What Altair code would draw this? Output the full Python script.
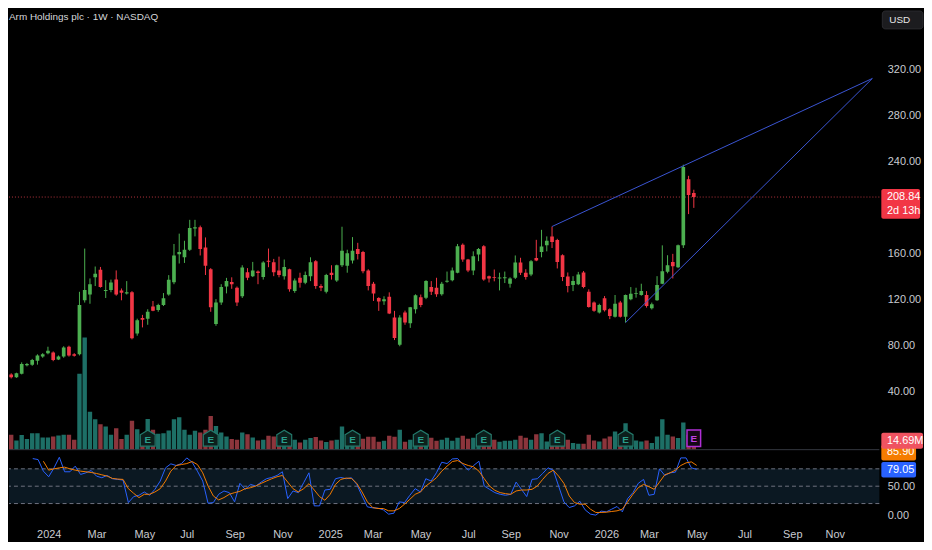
import altair as alt
import pandas as pd

# ---------------- data ----------------
TITLE = "Arm Holdings plc · 1W · NASDAQ"
FIRST_WEEK = "2023-10-30"

opens = [49.5, 54.5, 52, 55, 62.5, 63, 66.5, 70, 73, 73.5,
         67.5, 70, 78.5, 72, 72, 119, 124, 139, 145.5, 127,
         128, 137, 127.5, 125, 126, 90, 103.5, 103, 113.5, 110.5,
         115, 124, 134.6, 159, 156.5, 163, 181.5, 182.5, 165, 146,
         98.3, 117, 131, 135, 130, 122.5, 143.5, 140, 144, 139.2,
         153.5, 152, 145, 140, 146, 127, 138.6, 134.3, 140, 153,
         131.4, 126.4, 143, 136.3, 149.5, 149, 153.6, 163.6, 161, 145,
         133.4, 121, 118.2, 122, 104, 80.4, 108.3, 99, 111.2, 121.7,
         121.3, 130.5, 130, 124.2, 135.2, 136.5, 143, 167.4, 154.5, 145,
         158.8, 166, 140, 139.3, 138, 138.2, 133.4, 138.6, 151.8, 143,
         141.4, 155.8, 161, 166.8, 174.6, 171.5, 158.2, 139.8, 132.2, 133,
         143.2, 126.4, 117, 108.3, 120.7, 111.2, 104.6, 117, 104.6, 120,
         124.5, 123.6, 123.6, 112, 119, 133.4, 143.8, 152.4, 147.8, 166.8,
         224.4, 212.4]
highs = [54, 55.5, 56, 65, 64.5, 68, 72, 73, 78.6, 74.5,
         71, 79, 79.5, 73, 126.4, 164, 138, 148.4, 148, 136.5,
         137, 145, 129.3, 135.7, 127, 103, 106.3, 111.2, 118.4, 116,
         125.3, 140.9, 168, 177, 170.8, 189, 189, 184, 173.7, 147,
         120, 133, 138.5, 139, 131, 149.5, 147, 152.4, 145, 153,
         164, 155, 157, 154.5, 146.5, 138, 143, 144, 156.4, 154,
         133, 142, 149.5, 150, 183, 163, 174, 169, 162, 146,
         135, 121.7, 122.5, 125.9, 109.8, 106, 110, 113.2, 124.2, 124,
         136.5, 135.7, 138.6, 135, 144, 147.5, 168, 168.5, 155, 161.6,
         164.5, 167, 140.5, 145.8, 143, 144, 139, 158, 156, 146,
         154, 171.6, 180.3, 174.6, 183.2, 172.5, 159, 143.2, 140, 143.7,
         144.5, 128.5, 118, 116, 122.7, 112, 123.6, 118.5, 124, 130.5,
         129.9, 133.4, 127, 117, 140, 166.8, 158.2, 159.4, 167.5, 237,
         227.3, 215.2]
lows = [48.5, 51, 51.5, 54.5, 61.5, 62, 63, 69, 72, 66,
        67, 69, 70, 70, 71, 117, 116, 131.4, 130, 121,
        126, 123, 119, 124, 85, 88.2, 95.4, 97.7, 109.5, 109,
        114, 123, 133, 151, 151.5, 162, 174.6, 158, 141, 109,
        96.8, 115, 125, 129, 114, 121, 136.5, 139.2, 133, 137,
        147.8, 140, 139, 137, 126.5, 125.5, 130, 133, 135.7, 129,
        127, 125, 137, 135, 148, 143, 151, 154.5, 142.5, 127.6,
        118.4, 109.8, 115, 107, 84.4, 79, 97.7, 95, 107.5, 113,
        120, 123.6, 122, 123, 134.3, 135.5, 142.5, 152.5, 143.5, 140.9,
        153, 136, 134.5, 135.5, 127.6, 134, 130, 137.5, 141, 137,
        140, 153, 156.4, 161.6, 164.5, 146.7, 135.7, 125.9, 127, 132.2,
        129.5, 112.6, 109, 107.5, 109.2, 102.6, 104, 104, 99.6, 119,
        121.3, 123, 112.6, 111, 118.5, 133, 142.5, 138, 147, 164.5,
        194, 199.4]
closes = [53.5, 52, 55.5, 63.5, 63.5, 67, 71, 72, 75, 67,
          70, 78, 71, 70.8, 115, 128, 133, 142, 130.5, 128,
          134.5, 124, 125.5, 126, 86, 101.7, 102, 109, 110, 115,
          120.7, 136.8, 158, 161, 163, 181.8, 182.5, 163.6, 149, 113,
          117, 130.5, 135.7, 133, 117, 147.5, 138.6, 145, 142.8, 151.8,
          152.5, 143.5, 141, 148, 128.5, 136.3, 134.3, 141, 152, 131.4,
          130, 141, 141, 149.5, 162, 160, 162, 159.3, 144.3, 131.4,
          125, 118, 120, 107.5, 86.2, 104, 99.7, 113, 123.3, 115,
          135.7, 126.4, 124.2, 133.4, 136, 145, 166, 154.5, 145, 157.3,
          163.6, 137, 138, 138.6, 138.8, 139, 138, 151.8, 143, 139.2,
          153, 153.6, 165.7, 170.8, 169.7, 152.4, 139.2, 131.4, 135.7, 141.4,
          130.5, 113.2, 110, 115, 110.3, 105.4, 116.1, 104.6, 123.6, 124.7,
          125.2, 127, 114, 115.5, 132.2, 144.3, 149.5, 148.7, 166.8, 235,
          210.6, 208.84]
volumes_m = [27.5, 27.5, 17, 27, 19.6, 30.5, 30.5, 22.5, 22.5, 24.3,
             26.2, 27.5, 27.5, 18.3, 140.4, 207.3, 70.1, 56.2, 47, 42.6,
             27.5, 39.7, 19.6, 27.5, 53.6, 37.9, 22, 56.7, 36.6, 29.3,
             30.5, 35.3, 56.2, 59.8, 36.6, 27.5, 34.8, 31.7, 36.6, 62.2,
             43.9, 31.7, 24.3, 19.6, 18.3, 31.7, 28.7, 22.5, 17, 18.3,
             25.6, 24.3, 18.3, 30.5, 19.6, 18.3, 13.4, 18.3, 21.4, 23.2,
             17, 14.1, 17, 18.3, 42.6, 27.5, 25.6, 16.5, 20.1, 23.8,
             23.8, 14.6, 16.5, 25.6, 23.8, 36.6, 14.6, 18.3, 22, 25.6,
             18.3, 22, 16.5, 18.3, 22, 16.5, 22, 25.6, 20.1, 22,
             18.3, 22, 29.3, 18.3, 14.6, 16.5, 16.5, 18.3, 25.6, 22,
             18.3, 28.7, 30.5, 15.2, 18.3, 22, 22, 18.3, 12.3, 11,
             11, 27.5, 17, 15.2, 20.7, 24.3, 33.5, 22, 48.9, 13.4,
             17, 15.2, 17, 12.3, 24.3, 56.2, 27.5, 24.3, 21.4, 50,
             27.5, 14.69]
# Stochastic %K (starts at week 6) and %D (starts at week 8)
K_START = 6
stoch_k = [97.7, 96, 76, 66.3, 81.7, 100, 74.9, 74.9, 84.6, 70.3,
           73.1, 77.1, 67.4, 64.6, 68.6, 62.9, 61.7, 60.6, 21.7, 32,
           34.3, 40, 34.3, 44.6, 58.9, 81.7, 88.6, 85.7, 89.1, 98.9,
           91.4, 76, 58.9, 20.6, 21.7, 36, 41.7, 38.9, 22.9, 54.9,
           44.6, 53.1, 50.3, 57.1, 62.9, 65.1, 68.6, 74.9, 28.6, 41.7,
           38.9, 56, 73.1, 16, 16, 43.4, 44.6, 62.9, 65.1, 62.9,
           64.6, 53.1, 33.1, 14.3, 12.6, 12, 9.1, 1.7, 3.4, 22.9,
           21.7, 34.3, 45.7, 40, 62.9, 58.9, 73.1, 91.4, 89.1, 97.1,
           97.7, 87.4, 77.7, 85.7, 93.1, 50.3, 44.6, 38.9, 36, 34.3,
           36, 57.1, 44.6, 32, 61.7, 62.9, 72, 81.7, 77.7, 50.3,
           22.9, 13.1, 16, 24, 9.1, 1.7, 0, 6.9, 5.7, 10.3,
           14.9, 5.7, 28.6, 38.9, 54.9, 61.7, 34.3, 36, 80, 68.6,
           73.1, 74.3, 98.9, 98.9, 81.7, 79.05]
D_START = 8
stoch_d = [93.1, 77.7, 80, 81.7, 82.9, 80, 77.7, 76, 74.9, 73.7,
           72, 69.7, 67.4, 63.4, 62.3, 61.7, 45.7, 37.7, 30.3, 36,
           36, 40, 45.7, 58.9, 76, 85.7, 87.4, 89.1, 92.6, 87.4,
           73.1, 50.3, 33.1, 26.3, 30.3, 36, 38.9, 41.1, 45.7, 47.4,
           50.3, 54.9, 58.9, 62.9, 66.3, 68.6, 57.1, 45.7, 40, 45.7,
           54.3, 43.4, 32, 25.7, 36, 53.1, 61.7, 64, 63.4, 54.9,
           40, 22.9, 13.1, 11.4, 11.4, 7.4, 7.4, 11.4, 18.9, 27.4,
           36, 40, 50.3, 57.1, 64.6, 76, 84.6, 92.6, 94.3, 89.1,
           85.7, 83.4, 76, 62.9, 50.3, 42.9, 38.9, 37.1, 36, 41.7,
           43.4, 43.4, 44.6, 50.3, 61.7, 72, 77.7, 67.4, 54.9, 33.1,
           21.7, 18.9, 18.9, 10.3, 4.6, 4.6, 5.1, 6.3, 7.4, 10.3,
           22.9, 36, 47.4, 53.1, 49.1, 44.6, 57.1, 69.7, 73.1, 77.7,
           85.7, 90.3, 92, 85.9]
stoch_levels = [80, 50, 20]
earnings_weeks = [27, 39, 53, 66, 79, 91, 105, 118]
upcoming_earnings_week = 131
# trend lines: (name, date, price)
trend_names = ["upper", "upper", "lower", "lower"]
trend_dates = ["2025-10-27", "2026-12-28", "2026-02-02", "2026-12-28"]
trend_prices = [183.2, 312, 99.6, 312]
price_ticks = [40, 80, 120, 160, 240, 280, 320]
stoch_ticks = [0, 50]
# first weekly bar of every second month (label positions)
month_ticks = [(2024, 1, 1), (2024, 3, 4), (2024, 5, 6), (2024, 7, 1), (2024, 9, 2),
               (2024, 11, 4), (2025, 1, 6), (2025, 3, 3), (2025, 5, 5), (2025, 7, 7),
               (2025, 9, 1), (2025, 11, 3), (2026, 1, 5), (2026, 3, 2), (2026, 5, 4),
               (2026, 7, 6), (2026, 9, 7), (2026, 11, 2)]
countdown = "2d 13h"

# ---------------- styles ----------------
FONT = "Liberation Sans, Arial, sans-serif"
BG = "#000000"
UP = "#4caf50"
DOWN = "#f23645"
VOL_UP = "#1d6f66"
VOL_DOWN = "#8c353c"
TXT = "#c9cbd1"
TREND = "#3a55d4"
K_COL = "#2962ff"
D_COL = "#f57c00"
W, H_TOP, H_BOT = 877, 442, 74
FS = 11

n = len(opens)
dates = pd.date_range(FIRST_WEEK, periods=n, freq="7D").strftime("%Y-%m-%d")
df = pd.DataFrame({"date": dates, "open": opens, "high": highs, "low": lows,
                   "close": closes, "volume": volumes_m})
sk = pd.DataFrame({"date": dates[K_START:], "k": stoch_k})
sd = pd.DataFrame({"date": dates[D_START:], "d": stoch_d})
earn = pd.DataFrame({"date": [dates[i] for i in earnings_weeks]})
upc = pd.DataFrame({"date": [dates[upcoming_earnings_week]]})
trend = pd.DataFrame({"line": trend_names, "date": trend_dates, "price": trend_prices})

X_SCALE = alt.Scale(type="utc", domain=[
    alt.DateTime(year=2023, month=11, date=9, hours=16, minutes=20, utc=True),
    alt.DateTime(year=2026, month=12, date=30, hours=17, utc=True)])
PRICE_SCALE = alt.Scale(domain=[-10.97, 370.7], nice=False, zero=False)
VOL_SCALE = alt.Scale(domain=[0, 811], nice=False, zero=False)
STOCH_SCALE = alt.Scale(domain=[-15.5, 111.4], nice=False, zero=False)

PRICE_AXIS = alt.Axis(orient="right", values=price_ticks, format=".2f", title=None,
                      labelPadding=8, ticks=False, domain=False, grid=False)
STOCH_AXIS = alt.Axis(orient="right", values=stoch_ticks, format=".2f", title=None,
                      labelPadding=8, ticks=False, domain=False, grid=False)
X_AXIS = alt.Axis(values=[alt.DateTime(year=y, month=m, date=d, utc=True) for y, m, d in month_ticks],
                  labelExpr="utcmonth(datum.value) == 0 ? utcFormat(datum.value, '%Y') : utcFormat(datum.value, '%b')",
                  labelOverlap=False, labelFlush=False, ticks=False, domain=False, grid=False,
                  labelPadding=5, title=None)

x_top = alt.X("date:T", scale=X_SCALE, axis=None, title=None)
x_bot = alt.X("date:T", scale=X_SCALE, axis=X_AXIS, title=None)


def py(field):
    return alt.Y(field, scale=PRICE_SCALE, axis=PRICE_AXIS, title=None)


def sy(field):
    return alt.Y(field, scale=STOCH_SCALE, axis=STOCH_AXIS, title=None)


candle_color = alt.condition("datum.close >= datum.open", alt.value(UP), alt.value(DOWN))
vol_color = alt.condition("datum.close >= datum.open", alt.value(VOL_UP), alt.value(VOL_DOWN))

HOUSE = "M -1 -0.55 L 0 -1.15 L 1 -0.55 L 1 1 L -1 1 Z"
BOX = "M -0.82 -1 L 0.82 -1 L 0.82 1 L -0.82 1 Z"

# ---------- volume layer ----------
vol_bars = alt.Chart(df).mark_bar(size=4.4, clip=True).encode(
    x=x_top, y=alt.Y("volume:Q", scale=VOL_SCALE, axis=None, title=None), color=vol_color)
earn_icon = alt.Chart(earn).mark_point(shape=HOUSE, size=225, filled=True, fill="#0c1f1c",
                                       stroke="#23796b", strokeWidth=1.2, opacity=1).encode(
    x=x_top, y=alt.value(431))
earn_txt = alt.Chart(earn).mark_text(text="E", font=FONT, fontSize=10, fontWeight="bold",
                                     color="#2a9d8a").encode(x=x_top, y=alt.value(432.5))
upc_icon = alt.Chart(upc).mark_point(shape=BOX, size=279, filled=True, fill="#140816",
                                     stroke="#b02fd6", strokeWidth=1.5, opacity=1).encode(
    x=x_top, y=alt.value(430.5))
upc_txt = alt.Chart(upc).mark_text(text="E", font=FONT, fontSize=10, fontWeight="bold",
                                   color="#c040e6").encode(x=x_top, y=alt.value(431))
vol_layer = alt.layer(vol_bars, earn_icon, earn_txt, upc_icon, upc_txt)

# ---------- price layer ----------
last = pd.DataFrame({"p": [closes[-1]], "t": [f"{closes[-1]:.2f}"], "c": [countdown],
                     "top": [215.85], "bot": [189.95]})
price_rule = alt.Chart(last).mark_rule(color="#b8343e", strokeDash=[1, 2], strokeWidth=1).encode(y=py("p:Q"))
wicks = alt.Chart(df).mark_rule(strokeWidth=1, clip=True).encode(
    x=x_top, y=py("low:Q"), y2="high:Q", color=candle_color)
bodies = alt.Chart(df).mark_bar(size=3.7, clip=True).encode(
    x=x_top, y=py("open:Q"), y2="close:Q", color=candle_color)
tlines = alt.Chart(trend).mark_line(color=TREND, strokeWidth=1, clip=True).encode(
    x=x_top, y=py("price:Q"), detail="line:N")
plabel_box = alt.Chart(last).mark_rect(color=DOWN, cornerRadius=2).encode(
    x=alt.value(879), x2=alt.value(918), y=py("top:Q"), y2="bot:Q")
plabel_t1 = alt.Chart(last).mark_text(align="left", baseline="middle", font=FONT, fontSize=FS,
                                      color="#ffffff").encode(x=alt.value(884.7), y=py("p:Q"), text="t:N")
plabel_t2 = alt.Chart(last).mark_text(align="left", baseline="middle", font=FONT, fontSize=FS, dy=14,
                                      color="#ffffff").encode(x=alt.value(884.7), y=py("p:Q"), text="c:N")
head = pd.DataFrame({"t": [TITLE], "u": ["USD"]})
title_txt = alt.Chart(head).mark_text(align="left", baseline="middle", font=FONT, fontSize=10,
                                      color="#d6d7db").encode(x=alt.value(0), y=alt.value(6), text="t:N")
usd_box = alt.Chart(head).mark_rect(fill="#1c1c1f", stroke="#2a2a2e", cornerRadius=3).encode(
    x=alt.value(880), x2=alt.value(921), y=alt.value(0), y2=alt.value(18))
usd_txt = alt.Chart(head).mark_text(align="left", baseline="middle", font=FONT, fontSize=10,
                                    color="#e6e6e6").encode(x=alt.value(887), y=alt.value(9), text="u:N")
price_layer = alt.layer(price_rule, wicks, bodies, tlines, plabel_box, plabel_t1, plabel_t2,
                        title_txt, usd_box, usd_txt)

top = alt.layer(vol_layer, price_layer).resolve_scale(y="independent").properties(width=W, height=H_TOP)

# ---------- stochastic panel ----------
band_df = pd.DataFrame({"hi": [stoch_levels[0]], "lo": [stoch_levels[-1]]})
band = alt.Chart(band_df).mark_rect(color="#0b1822").encode(y=sy("hi:Q"), y2="lo:Q")
levels = alt.Chart(pd.DataFrame({"lvl": stoch_levels})).mark_rule(
    color="#6f7280", strokeDash=[4, 3], strokeWidth=1).encode(y=sy("lvl:Q"))
k_line = alt.Chart(sk).mark_line(color=K_COL, strokeWidth=1, clip=True).encode(x=x_bot, y=sy("k:Q"))
d_line = alt.Chart(sd).mark_line(color=D_COL, strokeWidth=1, clip=True).encode(x=x_bot, y=sy("d:Q"))
sep = alt.Chart(pd.DataFrame({"a": [0]})).mark_rule(color="#34373f", strokeWidth=1).encode(y=alt.value(-1))
lab = pd.DataFrame({"d": [f"{stoch_d[-1]:.2f}"], "k": [f"{stoch_k[-1]:.2f}"], "v": [f"{volumes_m[-1]:.2f}M"]})
d_box = alt.Chart(lab).mark_rect(color=D_COL, cornerRadius=2).encode(
    x=alt.value(879), x2=alt.value(914), y=alt.value(-6), y2=alt.value(10))
d_txt = alt.Chart(lab).mark_text(align="left", baseline="middle", font=FONT, fontSize=FS,
                                 color="#ffffff").encode(x=alt.value(884.7), y=alt.value(1.5), text="d:N")
k_box = alt.Chart(lab).mark_rect(color=K_COL, cornerRadius=2).encode(
    x=alt.value(879), x2=alt.value(914), y=alt.value(11.5), y2=alt.value(27))
k_txt = alt.Chart(lab).mark_text(align="left", baseline="middle", font=FONT, fontSize=FS,
                                 color="#ffffff").encode(x=alt.value(884.7), y=alt.value(19.5), text="k:N")
v_box = alt.Chart(lab).mark_rect(color="#ef5360", cornerRadius=2).encode(
    x=alt.value(879), x2=alt.value(921), y=alt.value(-18), y2=alt.value(-2))
v_txt = alt.Chart(lab).mark_text(align="left", baseline="middle", font=FONT, fontSize=FS,
                                 color="#ffffff").encode(x=alt.value(884.7), y=alt.value(-10), text="v:N")

bottom = alt.layer(band, levels, k_line, d_line, sep, d_box, d_txt, k_box, k_txt, v_box, v_txt).properties(
    width=W, height=H_BOT)

chart = alt.vconcat(top, bottom, spacing=1, bounds="flush").resolve_scale(x="independent").properties(
    padding=0, background=BG
).configure_view(strokeWidth=0).configure_axis(
    labelFont=FONT, labelFontSize=FS, labelColor=TXT
)

chart.save("out.html", embed_options={"renderer": "svg", "actions": False})
